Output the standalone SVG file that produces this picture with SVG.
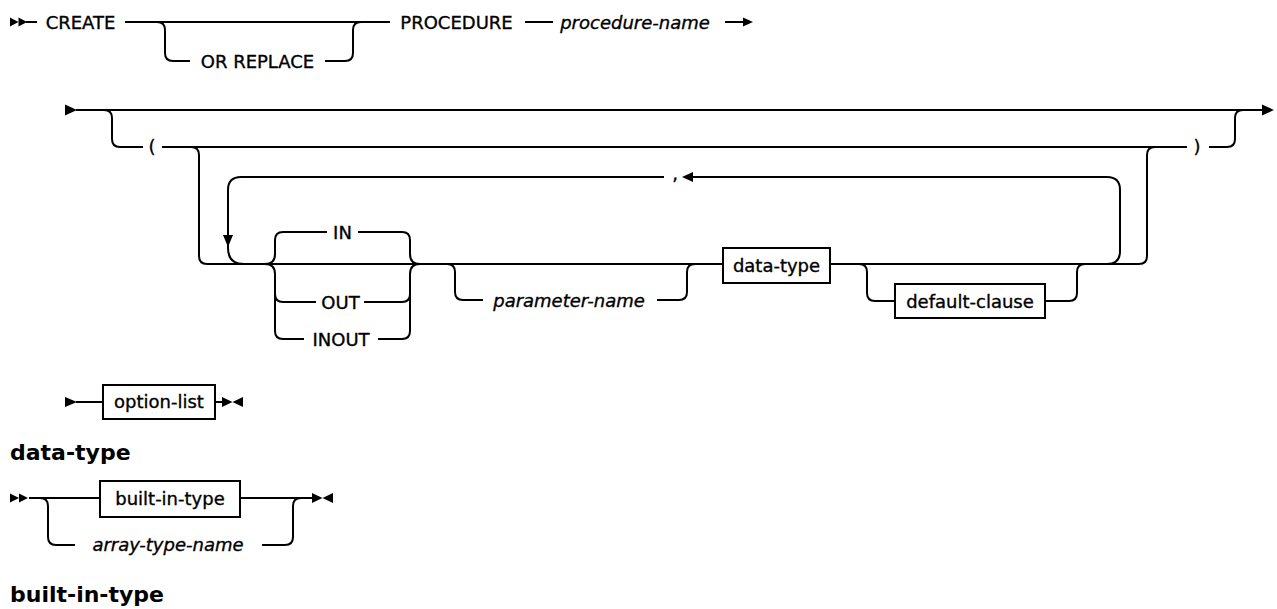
<svg xmlns="http://www.w3.org/2000/svg" width="1277" height="609" viewBox="0 0 1277 609">
  <style>
    .ln { fill: none; stroke: #000; stroke-width: 2; }
    .box { fill: #fff; stroke: #000; stroke-width: 2; }
    .ah { fill: #000; stroke: none; }
    .t { font-family: "DejaVu Sans", "Liberation Sans", sans-serif; font-size: 18px; fill: #000; stroke: #000; stroke-width: 0.35; text-anchor: middle; }
    .v { font-style: italic; }
    .h { font-family: "DejaVu Sans", "Liberation Sans", sans-serif; font-size: 22px; font-weight: bold; fill: #000; }
  </style>
  <rect width="1277" height="609" fill="#fff"/>

  <!-- connectors -->
  <g id="connectors">
    <!-- row 1: CREATE [OR REPLACE] PROCEDURE procedure-name -->
    <path class="ln" d="M26,22 H37"/>
    <path class="ln" d="M125,22 H390"/>
    <path class="ln" d="M157,22 Q165,22 165,30 V53 Q165,61 173,61 H190"/>
    <path class="ln" d="M325,61 H345 Q353,61 353,53 V30 Q353,22 361,22"/>
    <path class="ln" d="M525,22 H553"/>
    <path class="ln" d="M725,22 H744"/>

    <!-- row 2: optional parameter list -->
    <path class="ln" d="M76,110 H1263"/>
    <path class="ln" d="M104,110 Q112,110 112,118 V139 Q112,147 120,147 H143"/>
    <path class="ln" d="M162,147 H1187"/>
    <path class="ln" d="M191,147 Q199,147 199,155 V256 Q199,264 207,264 H1139 Q1147,264 1147,256 V155 Q1147,147 1155,147"/>
    <path class="ln" d="M1209,147 H1227 Q1235,147 1235,139 V118 Q1235,110 1243,110"/>

    <!-- repeat loop with comma separator -->
    <path class="ln" d="M1107,264 Q1120,264 1120,251 V190 Q1120,177 1107,177 H692"/>
    <path class="ln" d="M664,177 H241 Q228,177 228,190 V248 Q228,264 244,264"/>

    <!-- IN / OUT / INOUT -->
    <path class="ln" d="M265,264 Q275,264 275,254 V240 Q275,232 283,232 H327"/>
    <path class="ln" d="M358,232 H402 Q410,232 410,240 V254 Q410,264 420,264"/>
    <path class="ln" d="M265,264 Q275,264 275,274 V331 Q275,339 283,339 H304"/>
    <path class="ln" d="M275,294 Q275,302 283,302 H316"/>
    <path class="ln" d="M364,302 H402 Q410,302 410,294"/>
    <path class="ln" d="M378,339 H402 Q410,339 410,331 V274 Q410,264 420,264"/>

    <!-- optional parameter-name -->
    <path class="ln" d="M447,264 Q455,264 455,272 V292 Q455,300 463,300 H483"/>
    <path class="ln" d="M657,300 H679 Q687,300 687,292 V272 Q687,264 695,264"/>

    <!-- optional default-clause -->
    <path class="ln" d="M859,264 Q867,264 867,272 V293 Q867,301 875,301 H895"/>
    <path class="ln" d="M1045,301 H1069 Q1077,301 1077,293 V272 Q1077,264 1085,264"/>

    <!-- row 3 -->
    <path class="ln" d="M76,402 H103"/>
    <path class="ln" d="M215,402 H223"/>

    <!-- data-type diagram -->
    <path class="ln" d="M29,498 H100"/>
    <path class="ln" d="M240,498 H312"/>
    <path class="ln" d="M40,498 Q48,498 48,506 V537 Q48,545 56,545 H75"/>
    <path class="ln" d="M262,545 H285 Q293,545 293,537 V506 Q293,498 301,498"/>

    <!-- arrowheads and end markers -->
    <polygon class="ah" points="10,17.5 18.5,22 10,26.5"/>
    <polygon class="ah" points="18.5,17.5 27,22 18.5,26.5"/>
    <polygon class="ah" points="743,17.5 753,22 743,26.5"/>
    <polygon class="ah" points="65,104.5 77,110 65,115.5"/>
    <polygon class="ah" points="1262,104.5 1274,110 1262,115.5"/>
    <polygon class="ah" points="693,172 682,177 693,182"/>
    <polygon class="ah" points="223,235 233,235 228,247"/>
    <polygon class="ah" points="65,397 77,402 65,407"/>
    <polygon class="ah" points="222,397 232.5,402 222,407"/>
    <polygon class="ah" points="243,397 232.5,402 243,407"/>
    <polygon class="ah" points="10,493.5 19,498 10,502.5"/>
    <polygon class="ah" points="19,493.5 28,498 19,502.5"/>
    <polygon class="ah" points="312,493 322.5,498 312,503"/>
    <polygon class="ah" points="333,493 322.5,498 333,503"/>
  </g>

  <!-- keywords and variables -->
  <g id="kw-create"><text class="t" x="80.5" y="28.5">CREATE</text></g>
  <g id="kw-or-replace"><text class="t" x="257.5" y="67.5">OR REPLACE</text></g>
  <g id="kw-procedure"><text class="t" x="456.5" y="28.5">PROCEDURE</text></g>
  <g id="var-procedure-name"><text class="t v" x="635" y="28.5">procedure-name</text></g>
  <g id="kw-lparen"><text class="t" x="152" y="153">(</text></g>
  <g id="kw-rparen"><text class="t" x="1197" y="153">)</text></g>
  <g id="kw-comma"><text class="t" x="675" y="180">,</text></g>
  <g id="kw-in"><text class="t" x="342.5" y="238.5">IN</text></g>
  <g id="kw-out"><text class="t" x="340.5" y="308.5">OUT</text></g>
  <g id="kw-inout"><text class="t" x="341" y="345.5">INOUT</text></g>
  <g id="var-parameter-name"><text class="t v" x="569" y="306.5">parameter-name</text></g>
  <g id="ref-data-type">
    <rect class="box" x="723" y="248" width="107" height="35"/>
    <text class="t" x="776.5" y="271.5">data-type</text>
  </g>
  <g id="ref-default-clause">
    <rect class="box" x="895" y="284" width="150" height="34"/>
    <text class="t" x="970" y="307.5">default-clause</text>
  </g>
  <g id="ref-option-list">
    <rect class="box" x="103" y="385" width="112" height="34"/>
    <text class="t" x="159" y="408">option-list</text>
  </g>

  <!-- data-type section -->
  <g id="heading-data-type"><text class="h" x="10" y="460">data-type</text></g>
  <g id="ref-built-in-type">
    <rect class="box" x="100" y="481" width="140" height="36"/>
    <text class="t" x="170" y="504.5">built-in-type</text>
  </g>
  <g id="var-array-type-name"><text class="t v" x="168" y="551">array-type-name</text></g>

  <!-- built-in-type section -->
  <g id="heading-built-in-type"><text class="h" x="10" y="602">built-in-type</text></g>
</svg>
